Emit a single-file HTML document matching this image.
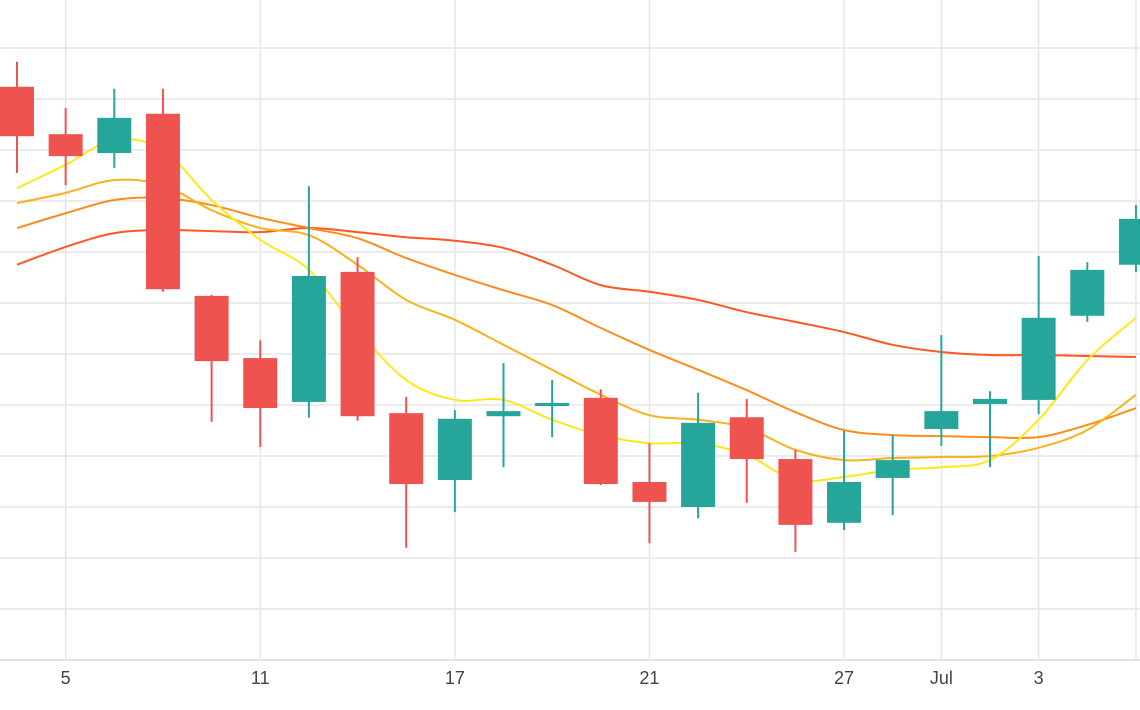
<!DOCTYPE html>
<html><head><meta charset="utf-8"><style>
html,body{margin:0;padding:0;background:#fff;}
svg{display:block;font-family:"Liberation Sans",sans-serif;}
</style></head><body>
<svg id="chart" width="1140" height="710" viewBox="0 0 1140 710">
<g id="grid"></g>
<g id="lines"></g>
<g id="candles"></g>
<g id="xaxis"></g>
</svg>
<script>
const opens  = [212.4,203.1,199.4,207.1,171.4,159.2,150.6,176.1,148.4,135.3,147.8,149.8,151.4,134.9,130.0,147.6,139.4,126.9,135.7,145.3,150.2,151.0,167.5,177.5];
const closes = [202.7,198.8,206.3,172.7,158.6,149.4,175.3,147.8,134.5,147.3,148.8,150.4,134.5,131.0,146.5,139.4,126.5,134.9,139.2,148.8,151.2,167.1,176.5,186.5];
const highs  = [217.3,208.2,212.0,212.0,171.6,162.7,192.9,179.0,151.6,149.0,158.2,154.9,153.1,142.5,152.4,151.2,141.2,144.9,144.1,163.7,152.7,179.2,178.0,189.2];
const lows   = [195.5,193.1,196.5,172.2,146.7,141.8,147.5,146.9,122.0,129.0,137.8,143.7,134.3,122.9,127.8,130.8,121.2,125.5,128.4,142.0,137.8,148.2,166.3,176.1];
const ma1 = [192.5,197.1,202.0,200.0,190.2,182.4,176.5,164.7,154.9,151.0,151.0,147.1,144.1,142.5,142.5,140.2,135.3,135.9,137.3,137.8,139.2,147.1,158.8,167.1];
const ma2 = [189.6,191.6,194.1,193.1,188.2,184.7,183.3,177.5,170.6,166.7,161.8,156.9,152.0,148.0,147.1,145.5,141.2,139.2,139.6,139.8,140.0,141.6,145.1,152.0];
const ma3 = [184.7,187.6,190.2,190.6,189.2,186.7,184.7,182.7,178.8,175.5,172.5,169.6,165.1,160.8,156.9,152.9,148.6,145.1,144.1,143.9,143.7,143.7,146.1,149.4];
const ma4 = [177.5,181.0,183.7,184.3,184.1,183.9,184.7,183.9,182.9,182.2,180.8,177.5,173.5,172.2,170.6,168.2,166.3,164.3,161.8,160.4,159.8,159.8,159.6,159.4];
const tickIdx = [1,5,9,13,17,19,21,23];
const tickLabels = ["5","11","17","21","27","Jul","3",""];
const yTicks = [100,110,120,130,140,150,160,170,180,190,200,210,220];

const NS="http://www.w3.org/2000/svg";
const X = i => 17 + i*48.65;
const Y = v => 660 - (v-100)*5.1;
function mk(tag, attrs, parent){const e=document.createElementNS(NS,tag);for(const k in attrs)e.setAttribute(k,attrs[k]);parent.appendChild(e);return e;}
const grid=document.getElementById('grid'), lines=document.getElementById('lines'), cg=document.getElementById('candles'), xa=document.getElementById('xaxis');

yTicks.forEach(v=>{
  const l=mk('line',{x1:0,x2:1140,y1:Y(v),y2:Y(v),stroke:v===100?'#dcdcdc':'#e6e6e6','stroke-width':1.5},grid);
  
  
});
tickIdx.forEach((i,k)=>{
  const l=mk('line',{x1:X(i),x2:X(i),y1:0,y2:660,stroke:'#e6e6e6','stroke-width':1.5},grid);
  
  
  if(tickLabels[k]){
    const t=mk('text',{x:X(i),y:684,'text-anchor':'middle','font-size':18,fill:'#444'},xa);
    t.textContent=tickLabels[k];
    
    
  }
});

function smooth(arr){
  const p=arr.map((v,i)=>[X(i),Y(v)]);
  let d=`M${p[0][0]},${p[0][1]}`;
  for(let i=0;i<p.length-1;i++){
    const p0=p[Math.max(0,i-1)],p1=p[i],p2=p[i+1],p3=p[Math.min(p.length-1,i+2)];
    const c1=[p1[0]+(p2[0]-p0[0])/6,p1[1]+(p2[1]-p0[1])/6];
    const c2=[p2[0]-(p3[0]-p1[0])/6,p2[1]-(p3[1]-p1[1])/6];
    d+=` C${c1[0]},${c1[1]} ${c2[0]},${c2[1]} ${p2[0]},${p2[1]}`;
  }
  return d;
}
[[ma4,'#ff5722'],[ma3,'#ff8c1a'],[ma2,'#f9b21a'],[ma1,'#ffe81a']].forEach(([a,c],k)=>{
  const p=mk('path',{d:smooth(a),fill:'none',stroke:c,'stroke-width':2},lines);
  
  
});

opens.forEach((o,i)=>{
  const c=closes[i], up=c>=o, col=up?'#26a69a':'#ef5350';
  const g=mk('g',{},cg);
  
  
  mk('line',{x1:X(i),x2:X(i),y1:Y(highs[i]),y2:Y(lows[i]),stroke:col,'stroke-width':2},g);
  const top=Y(Math.max(o,c)), bot=Y(Math.min(o,c));
  mk('rect',{x:X(i)-17,y:top,width:34,height:Math.max(2,bot-top),fill:col},g);
});
</script>
</body></html>
